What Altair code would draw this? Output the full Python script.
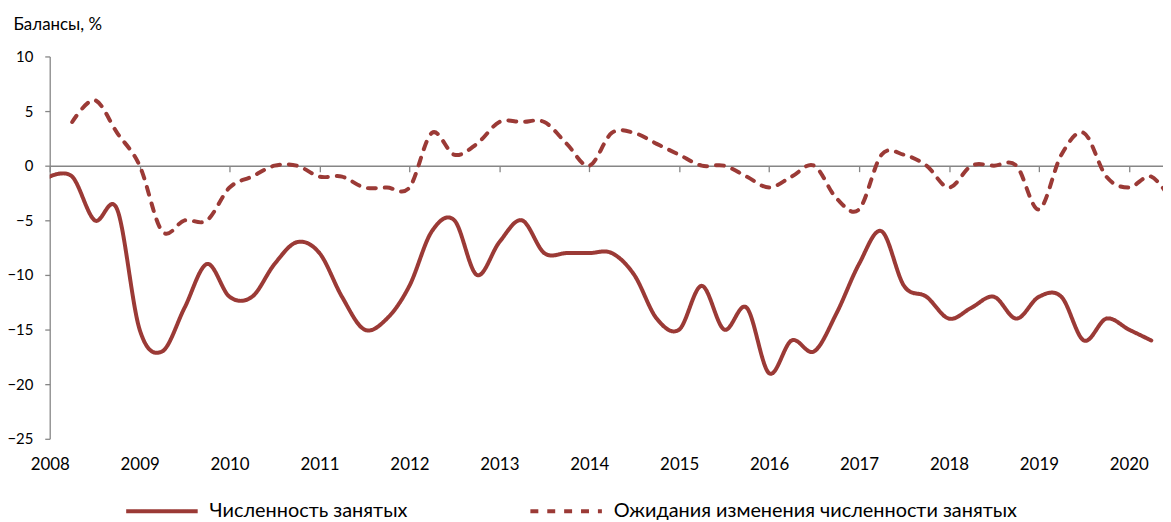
import altair as alt
import pandas as pd

SERIES_EMP = "Численность занятых"
SERIES_EXP = "Ожидания изменения численности занятых"

# quarterly balances, 2008 Q1 .. 2020 Q2
employment = [
    -1, -1, -5, -4,
    -15, -17, -13, -9,
    -12, -12, -9, -7,
    -8, -12, -15, -14,
    -11, -6, -5, -10,
    -7, -5, -8, -8,
    -8, -8, -10, -14,
    -15, -11, -15, -13,
    -19, -16, -17, -13.5,
    -9, -6, -11, -12,
    -14, -13, -12, -14,
    -12, -12, -16, -14,
    -15, -16,
]
# quarterly balances, 2008 Q2 .. 2020 Q3
expectations = [
    4, 6, 3,
    0, -6, -5, -5,
    -2, -1, 0, 0,
    -1, -1, -2, -2,
    -2, 3, 1, 2,
    4, 4, 4, 2,
    0, 3, 3, 2,
    1, 0, 0, -1,
    -2, -1, 0, -3,
    -4, 1, 1, 0,
    -2, 0, 0, 0,
    -4, 1, 3, -1,
    -2, -1, -3.5,
]
emp_start = 2008.0
exp_start = 2008.25
years = list(range(2008, 2021))
y_ticks = [10, 5, 0, -5, -10, -15, -20, -25]

rows = []
for i, v in enumerate(employment):
    rows.append({"t": emp_start + i / 4, "v": v, "s": SERIES_EMP})
for i, v in enumerate(expectations):
    rows.append({"t": exp_start + i / 4, "v": v, "s": SERIES_EXP})
df = pd.DataFrame(rows)

COLOR = "#9B3A36"
AXIS_GRAY = "#868686"
FONT = "Lato"

W, H = 1121, 385
x_scale = alt.Scale(domain=[2008, 2008 + W / 90.55], nice=False, zero=False)
y_scale = alt.Scale(domain=[-25, 10], nice=False, zero=False)

legend_cfg = dict(title=None, orient="none", direction="horizontal",
                  legendX=75, legendY=420, columnPadding=115,
                  symbolType="stroke", symbolSize=5184,
                  symbolStrokeWidth=4, labelOffset=10,
                  labelFontSize=20, labelFont=FONT,
                  labelColor="#000", labelLimit=600)

lines = alt.Chart(df).mark_line(
    interpolate="cardinal", strokeWidth=4, clip=True, strokeCap="round"
).encode(
    x=alt.X("t:Q", scale=x_scale,
            axis=alt.Axis(orient="bottom", values=years, format="d", title=None,
                          domain=False, ticks=False, grid=False,
                          labelFontSize=17, labelFont=FONT, labelColor="#000",
                          labelPadding=18, labelFlush=False)),
    y=alt.Y("v:Q", scale=y_scale,
            axis=alt.Axis(orient="left", values=y_ticks, grid=False,
                          domainColor=AXIS_GRAY, domainWidth=1.3,
                          tickColor=AXIS_GRAY, tickSize=5, tickWidth=1.3,
                          labelFontSize=15, labelFont=FONT, labelColor="#000",
                          labelPadding=12, labelAlign="right",
                          title="Балансы, %", titleAngle=0, titleAlign="left",
                          titleBaseline="alphabetic", titleX=-37, titleY=-27,
                          titleFont=FONT, titleFontSize=17, titleFontWeight="normal",
                          titleColor="#000")),
    color=alt.Color("s:N",
                    scale=alt.Scale(domain=[SERIES_EMP, SERIES_EXP], range=[COLOR, COLOR]),
                    legend=alt.Legend(**legend_cfg)),
    strokeDash=alt.StrokeDash("s:N",
                              scale=alt.Scale(domain=[SERIES_EMP, SERIES_EXP],
                                              range=[[1, 0], [8, 9]]),
                              legend=alt.Legend(**legend_cfg)),
)

zero_axis = alt.Chart(df).mark_point(opacity=0).encode(
    x=alt.X("t:Q", scale=x_scale,
            axis=alt.Axis(orient="bottom", offset=-275, values=years, labels=False,
                          title=None, grid=False, domainColor=AXIS_GRAY, domainWidth=1.6,
                          tickColor=AXIS_GRAY, tickSize=6, tickWidth=1.3)),
    y=alt.Y("v:Q", scale=y_scale, axis=None),
)

chart = alt.layer(lines, zero_axis).resolve_axis(
    x="independent", y="independent"
).properties(
    width=W, height=H,
    autosize=alt.AutoSizeParams(type="none"),
    padding={"left": 42, "top": 47, "right": 0, "bottom": 82},
).configure_view(stroke=None)

chart.save("out.html", embed_options={"renderer": "svg", "actions": False})
